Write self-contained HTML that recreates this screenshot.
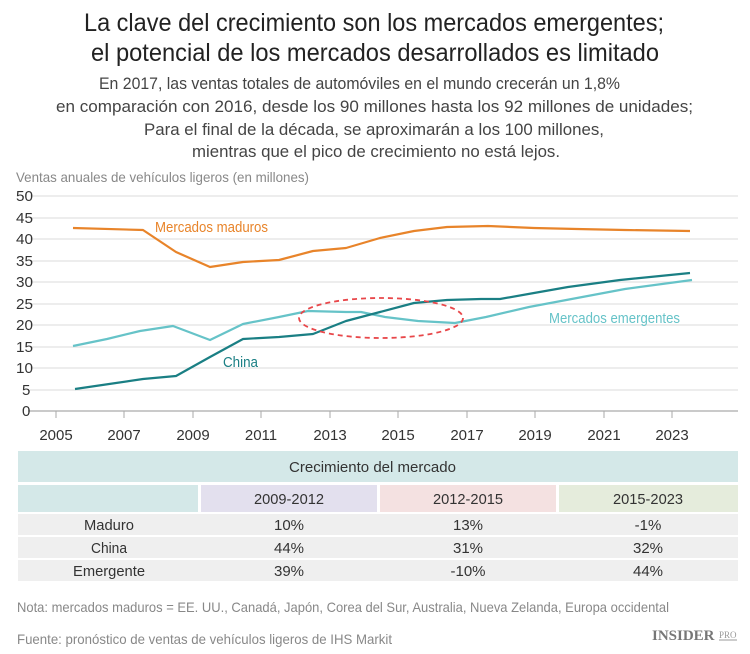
<!DOCTYPE html>
<html><head><meta charset="utf-8"><style>
html,body{margin:0;padding:0;background:#fff;}
svg{display:block;font-family:"Liberation Sans Narrow","Liberation Sans",sans-serif;}
</style></head><body>
<svg width="750" height="654" viewBox="0 0 750 654" xmlns="http://www.w3.org/2000/svg">
<g fill="#222" font-size="25">
<text x="84" y="31" textLength="580" lengthAdjust="spacingAndGlyphs">La clave del crecimiento son los mercados emergentes;</text>
<text x="91" y="61" textLength="568" lengthAdjust="spacingAndGlyphs">el potencial de los mercados desarrollados es limitado</text>
</g>
<g fill="#444" font-size="17">
<text x="99" y="89" textLength="521" lengthAdjust="spacingAndGlyphs">En 2017, las ventas totales de automóviles en el mundo crecerán un 1,8%</text>
<text x="56" y="112" textLength="637" lengthAdjust="spacingAndGlyphs">en comparación con 2016, desde los 90 millones hasta los 92 millones de unidades;</text>
<text x="144" y="135" textLength="460" lengthAdjust="spacingAndGlyphs">Para el final de la década, se aproximarán a los 100 millones,</text>
<text x="192" y="157" textLength="368" lengthAdjust="spacingAndGlyphs">mientras que el pico de crecimiento no está lejos.</text>
</g>
<text x="16" y="182" fill="#888" font-size="14" textLength="293" lengthAdjust="spacingAndGlyphs">Ventas anuales de vehículos ligeros (en millones)</text>
<g stroke="#e2e2e2" stroke-width="1.2">
<line x1="30" x2="738" y1="196" y2="196"/><line x1="30" x2="738" y1="218" y2="218"/>
<line x1="30" x2="738" y1="239" y2="239"/><line x1="30" x2="738" y1="261" y2="261"/>
<line x1="30" x2="738" y1="282" y2="282"/><line x1="30" x2="738" y1="304" y2="304"/>
<line x1="30" x2="738" y1="325" y2="325"/><line x1="30" x2="738" y1="347" y2="347"/>
<line x1="30" x2="738" y1="368" y2="368"/><line x1="30" x2="738" y1="390" y2="390"/>
</g>
<line x1="28" x2="738" y1="411" y2="411" stroke="#aaa" stroke-width="1.2"/>
<g stroke="#aaa"><line x1="56" x2="56" y1="411" y2="418"/><line x1="124" x2="124" y1="411" y2="418"/><line x1="193" x2="193" y1="411" y2="418"/><line x1="261" x2="261" y1="411" y2="418"/><line x1="330" x2="330" y1="411" y2="418"/><line x1="398" x2="398" y1="411" y2="418"/><line x1="467" x2="467" y1="411" y2="418"/><line x1="535" x2="535" y1="411" y2="418"/><line x1="604" x2="604" y1="411" y2="418"/><line x1="672" x2="672" y1="411" y2="418"/></g>
<g fill="#333" font-size="15">
<text x="16" y="201" textLength="17" lengthAdjust="spacingAndGlyphs">50</text><text x="16" y="223" textLength="17" lengthAdjust="spacingAndGlyphs">45</text><text x="16" y="244" textLength="17" lengthAdjust="spacingAndGlyphs">40</text><text x="16" y="266" textLength="17" lengthAdjust="spacingAndGlyphs">35</text><text x="16" y="287" textLength="17" lengthAdjust="spacingAndGlyphs">30</text><text x="16" y="309" textLength="17" lengthAdjust="spacingAndGlyphs">25</text><text x="16" y="330" textLength="17" lengthAdjust="spacingAndGlyphs">20</text><text x="16" y="352" textLength="17" lengthAdjust="spacingAndGlyphs">15</text><text x="16" y="373" textLength="17" lengthAdjust="spacingAndGlyphs">10</text><text x="22" y="395">5</text><text x="22" y="416">0</text>
</g>
<g fill="#333" font-size="15" text-anchor="middle">
<text x="56" y="440">2005</text><text x="124" y="440">2007</text><text x="193" y="440">2009</text><text x="261" y="440">2011</text><text x="330" y="440">2013</text><text x="398" y="440">2015</text><text x="467" y="440">2017</text><text x="535" y="440">2019</text><text x="604" y="440">2021</text><text x="672" y="440">2023</text>
</g>
<g fill="none" stroke-width="2.2" stroke-linejoin="round">
<polyline stroke="#e8842a" points="73,228 143,230 176,252 210,267 243,262 279,260 313,251 346,248 380,238 414,231 447,227 488,226 534,228 577,229 625,230 690,231"/>
<polyline stroke="#66c3c8" points="73,346 107,339 140,331 173,326 210,340 243,324 279,317 308,311 346,312 361,312 385,317 418,321 455,323 486,317 529,307 577,298 625,289 692,280"/>
<polyline stroke="#1a7f84" points="75,389 143,379 176,376 210,357 243,339 279,337 313,334 346,321 380,312 414,303 447,300 481,299 500,299 534,293 568,287 620,280 690,273"/>
</g>
<ellipse cx="381" cy="318" rx="82" ry="20" fill="none" stroke="#e8474a" stroke-width="1.8" stroke-dasharray="5,4"/>
<text x="155" y="232" fill="#e8842a" font-size="15" textLength="113" lengthAdjust="spacingAndGlyphs">Mercados maduros</text>
<text x="549" y="323" fill="#66c3c8" font-size="15" textLength="131" lengthAdjust="spacingAndGlyphs">Mercados emergentes</text>
<text x="223" y="367" fill="#1a7f84" font-size="15" textLength="35" lengthAdjust="spacingAndGlyphs">China</text>
<rect x="18" y="451" width="720" height="31" fill="#d4e8e8"/>
<text x="289" y="472" fill="#333" font-size="15" textLength="167" lengthAdjust="spacingAndGlyphs">Crecimiento del mercado</text>
<rect x="18" y="485" width="180" height="27" fill="#d4e8e8"/>
<rect x="201" y="485" width="176" height="27" fill="#e3e0ee"/>
<rect x="380" y="485" width="176" height="27" fill="#f4e1e1"/>
<rect x="559" y="485" width="179" height="27" fill="#e5ecdc"/>
<rect x="18" y="514" width="720" height="21" fill="#efefef"/>
<rect x="18" y="537" width="720" height="21" fill="#efefef"/>
<rect x="18" y="560" width="720" height="21" fill="#efefef"/>
<g fill="#333" font-size="15">
<text x="254" y="504" textLength="70" lengthAdjust="spacingAndGlyphs">2009-2012</text><text x="433" y="504" textLength="70" lengthAdjust="spacingAndGlyphs">2012-2015</text><text x="613" y="504" textLength="70" lengthAdjust="spacingAndGlyphs">2015-2023</text>
<text x="84" y="530" textLength="50" lengthAdjust="spacingAndGlyphs">Maduro</text>
<text x="91" y="553" textLength="36" lengthAdjust="spacingAndGlyphs">China</text>
<text x="73" y="576" textLength="72" lengthAdjust="spacingAndGlyphs">Emergente</text>
</g>
<g fill="#333" font-size="15" text-anchor="middle">
<text x="289" y="530">10%</text><text x="468" y="530">13%</text><text x="648" y="530">-1%</text>
<text x="289" y="553">44%</text><text x="468" y="553">31%</text><text x="648" y="553">32%</text>
<text x="289" y="576">39%</text><text x="468" y="576">-10%</text><text x="648" y="576">44%</text>
</g>
<text x="17" y="612" fill="#888" font-size="14" textLength="652" lengthAdjust="spacingAndGlyphs">Nota: mercados maduros = EE. UU., Canadá, Japón, Corea del Sur, Australia, Nueva Zelanda, Europa occidental</text>
<text x="17" y="644" fill="#888" font-size="14" textLength="375" lengthAdjust="spacingAndGlyphs">Fuente: pronóstico de ventas de vehículos ligeros de IHS Markit</text>
<text x="652" y="640" fill="#777" font-size="15" font-weight="bold" font-family="Liberation Serif,serif">INSIDER</text>
<text x="719" y="638" fill="#999" font-size="9" font-family="Liberation Serif,serif">PRO</text>
<line x1="719" x2="737" y1="640" y2="640" stroke="#999"/>
</svg>
</body></html>
